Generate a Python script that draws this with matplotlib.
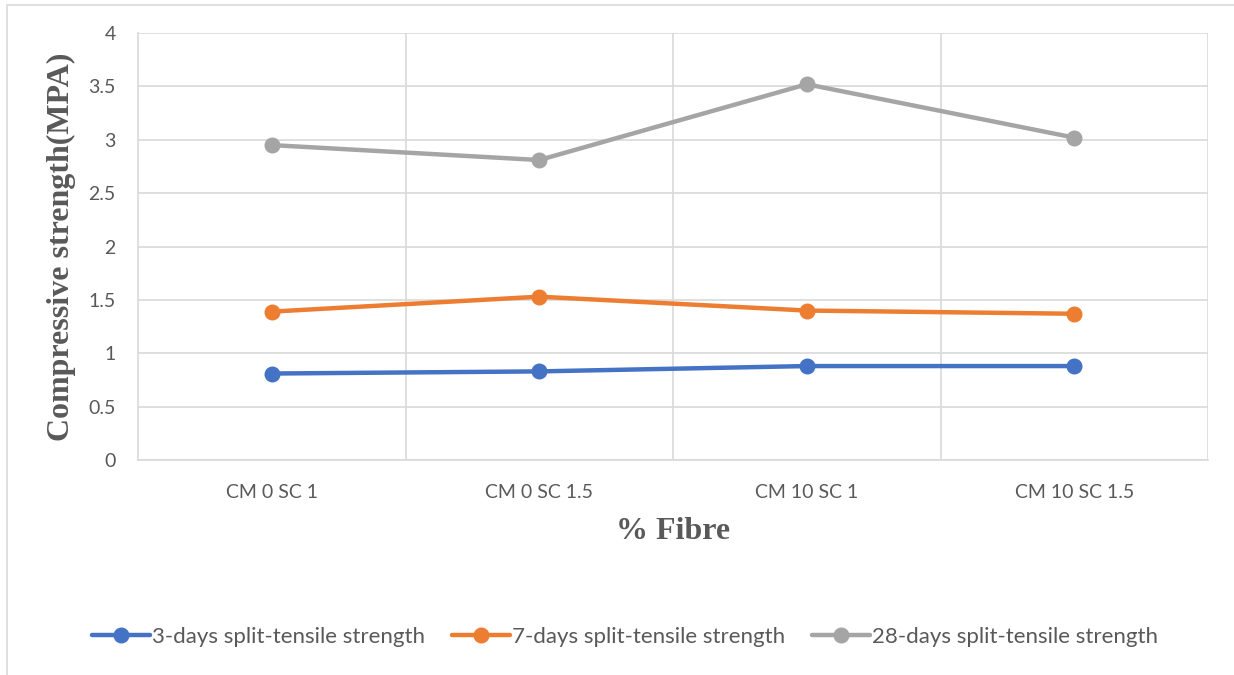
import matplotlib.pyplot as plt
from matplotlib.patches import Rectangle

# split-tensile strength for each fibre mix
mixes = ["CM 0 SC 1", "CM 0 SC 1.5", "CM 10 SC 1", "CM 10 SC 1.5"]
days3 = [0.81, 0.83, 0.88, 0.88]
days7 = [1.39, 1.53, 1.40, 1.37]
days28 = [2.95, 2.81, 3.52, 3.02]

series = [
    ("3-days split-tensile strength", days3, "#4472c4"),
    ("7-days split-tensile strength", days7, "#ed7d31"),
    ("28-days split-tensile strength", days28, "#a5a5a5"),
]

grid_col = "#d9d9d9"
txt_col = "#595959"
tick_font = ["Lato", "DejaVu Sans"]
title_font = ["Liberation Serif", "DejaVu Serif"]

fig = plt.figure(figsize=(12.34, 6.75), dpi=100)
# chart frame
fig.patches.append(Rectangle((7/1234, -0.01), 1.0, 1 - 5/675 + 0.01,
                             transform=fig.transFigure, fill=False,
                             edgecolor=grid_col, lw=1.2))

ax = fig.add_axes([138/1234, 1 - 460/675, (1208-138)/1234, (460-33)/675])
x = list(range(len(mixes)))
for name, vals, col in series:
    ax.plot(x, vals, color=col, lw=3.2, marker="o", ms=10.5, label=name,
            solid_capstyle="round", zorder=3)

ax.set_xlim(-0.5, len(mixes) - 0.5)
ax.set_ylim(0, 4)
ax.set_yticks([0, 0.5, 1, 1.5, 2, 2.5, 3, 3.5, 4])
ax.set_yticklabels(["0", "0.5", "1", "1.5", "2", "2.5", "3", "3.5", "4"])
ax.set_xticks(x)
ax.set_xticklabels(mixes)
ax.tick_params(length=0, colors=txt_col, labelsize=14)
ax.tick_params(axis="y", pad=16)
ax.tick_params(axis="x", pad=17)
for lab in ax.get_xticklabels() + ax.get_yticklabels():
    lab.set_family(tick_font)

ax.grid(axis="y", color=grid_col, lw=1.2, zorder=0)
for xb in [i + 0.5 for i in x]:
    ax.axvline(xb, color=grid_col, lw=1.2, zorder=0)
for s in ["top", "right"]:
    ax.spines[s].set_visible(False)
for s in ["left", "bottom"]:
    ax.spines[s].set_color(grid_col)
    ax.spines[s].set_linewidth(1.2)

ax.set_ylabel("Compressive strength(MPA)", family=title_font, weight="bold",
              fontsize=23, color=txt_col, labelpad=9)
ax.set_xlabel("% Fibre", family=title_font, weight="bold", fontsize=23,
              color=txt_col, labelpad=12)

leg = fig.legend(loc="center", bbox_to_anchor=(625/1234, 1 - 637/675), ncol=3,
                 frameon=False, prop={"family": tick_font, "size": 16},
                 handlelength=2.6, handletextpad=0.1, columnspacing=1.2,
                 labelcolor=txt_col)

fig.savefig("out.png", dpi=100)
